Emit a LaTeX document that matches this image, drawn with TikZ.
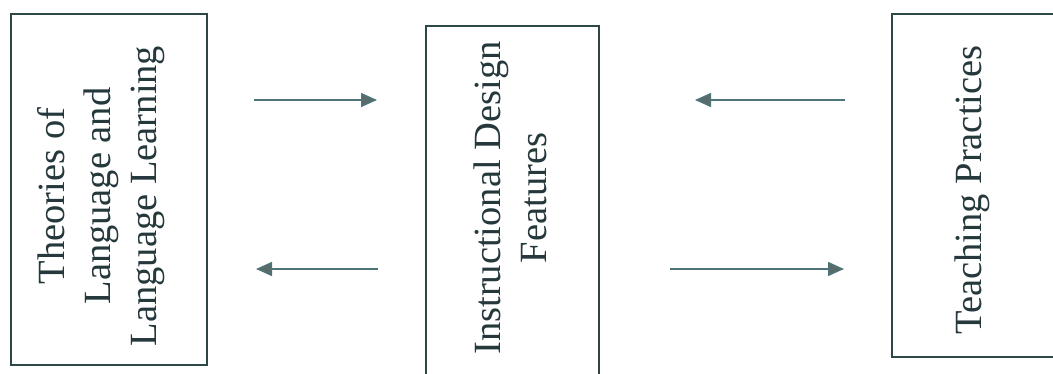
\documentclass[tikz,border=0pt]{standalone}
\usepackage{fontspec}
\setmainfont{Liberation Serif}
\usetikzlibrary{arrows.meta}
\definecolor{boxline}{HTML}{2E4747}
\definecolor{txt}{HTML}{25383C}
\definecolor{arrline}{HTML}{4F7478}
\definecolor{arrhead}{HTML}{5A6A6A}
\begin{document}
\begin{tikzpicture}[x=1pt,y=1pt,
  boxstyle/.style={draw=boxline,line width=1.6pt,fill=none},
  label/.style={text=txt,rotate=90,align=center,inner sep=0pt,font=\fontsize{38.5}{46}\selectfont},
  flow/.style={draw=arrline,line width=1.6pt,-{Triangle[length=16pt,width=14pt,fill=arrhead]}}]
\useasboundingbox (0,0) rectangle (1053,374);
\clip (0,0) rectangle (1053,374);
\fill[white] (0,0) rectangle (1053,374);
% boxes
\draw[boxstyle] (11,9) rectangle (207,360);
\draw[boxstyle] (426,-10) -- (426,348) -- (599,348) -- (599,-10);
\draw[boxstyle] (1065,360) -- (892,360) -- (892,17) -- (1065,17);
% labels
\node[label] (theories) at (101,178) {Theories of\\Language and\\Language Learning};
\node[label] (design) at (510,176) {Instructional Design\\Features};
\node[label] (teaching) at (972,184) {Teaching Practices};
% connector ends
\coordinate (a1s) at (254,274); \coordinate (a1e) at (377,274);
\coordinate (a2s) at (378,105); \coordinate (a2e) at (256,105);
\coordinate (a3s) at (845,274); \coordinate (a3e) at (695,274);
\coordinate (a4s) at (670,105); \coordinate (a4e) at (844,105);
\draw[flow] (a1s) -- (a1e);
\draw[flow] (a2s) -- (a2e);
\draw[flow] (a3s) -- (a3e);
\draw[flow] (a4s) -- (a4e);
\end{tikzpicture}
\end{document}
